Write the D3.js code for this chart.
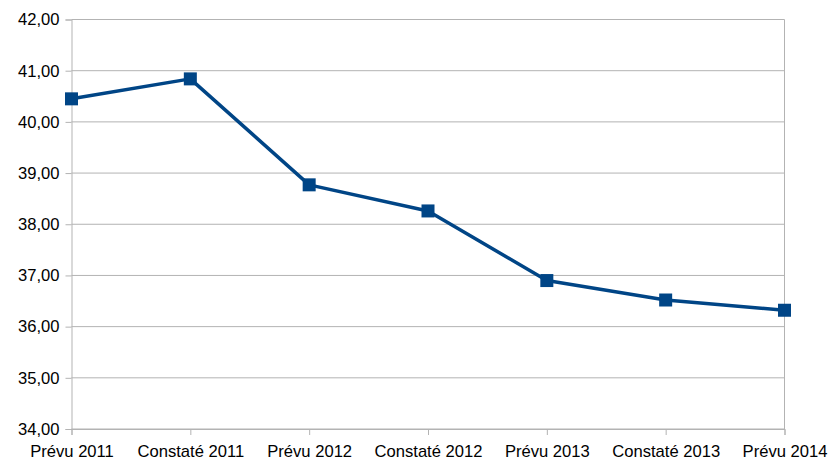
<!DOCTYPE html>
<html>
<head>
<meta charset="utf-8">
<script src="https://cdn.jsdelivr.net/npm/d3@7/dist/d3.min.js"></script>
<style>
    html, body { margin: 0; padding: 0; background: #fff; }
    svg { display: block; }
    .axis text { font-family: "Liberation Sans", Arial, sans-serif; font-size: 16.6px; fill: #000; }
</style>
</head>
<body>
<svg id="chart" width="832" height="461"></svg>
<script>
var categories = ['Prévu 2011', 'Constaté 2011', 'Prévu 2012', 'Constaté 2012', 'Prévu 2013', 'Constaté 2013', 'Prévu 2014'],
    values = [40.45, 40.84, 38.77, 38.26, 36.90, 36.52, 36.32],
    yTicks = [34, 35, 36, 37, 38, 39, 40, 41, 42];

var svg = d3.select('#chart'),
    margin = {top: 19.5, right: 47.5, bottom: 32, left: 71.5},
    width = 832 - margin.left - margin.right,
    height = 461 - margin.top - margin.bottom,
    g = svg.append('g').attr('transform', 'translate(' + margin.left + ',' + margin.top + ')');

var x = d3.scalePoint().domain(categories).range([0, width]),
    y = d3.scaleLinear().domain([34, 42]).range([height, 0]),
    fmt = function (d) { return d3.format('.2f')(d).replace('.', ','); };

// horizontal grid
g.append('g')
    .selectAll('line')
    .data(yTicks)
    .enter().append('line')
    .attr('x1', 0)
    .attr('x2', width)
    .attr('y1', function (d) { return y(d); })
    .attr('y2', function (d) { return y(d); })
    .attr('stroke', '#b3b3b3')
    .attr('stroke-width', 1);

// y axis
var yAxis = g.append('g')
    .attr('class', 'axis')
    .call(d3.axisLeft(y).tickValues(yTicks).tickFormat(fmt).tickSize(6).tickPadding(6));
yAxis.select('.domain').attr('stroke', '#b3b3b3');
yAxis.selectAll('.tick line').attr('stroke', '#b3b3b3');

// x axis
var xAxis = g.append('g')
    .attr('class', 'axis')
    .attr('transform', 'translate(0,' + height + ')')
    .call(d3.axisBottom(x).tickSize(6).tickPadding(10));
xAxis.select('.domain').attr('stroke', '#b3b3b3');
xAxis.selectAll('.tick line').attr('stroke', '#b3b3b3');

// right border line
g.append('line')
    .attr('x1', width).attr('x2', width)
    .attr('y1', 0).attr('y2', height)
    .attr('stroke', '#b3b3b3');

var line = d3.line()
    .x(function (d, i) { return x(categories[i]); })
    .y(function (d) { return y(d); });

g.append('path')
    .datum(values)
    .attr('d', line)
    .attr('fill', 'none')
    .attr('stroke', '#004586')
    .attr('stroke-width', 3.5)
    .attr('stroke-linejoin', 'round');

g.append('g')
    .selectAll('rect')
    .data(values)
    .enter().append('rect')
    .attr('x', function (d, i) { return x(categories[i]) - 6.5; })
    .attr('y', function (d) { return y(d) - 6.5; })
    .attr('width', 13)
    .attr('height', 13)
    .attr('fill', '#004586');
</script>
</body>
</html>
